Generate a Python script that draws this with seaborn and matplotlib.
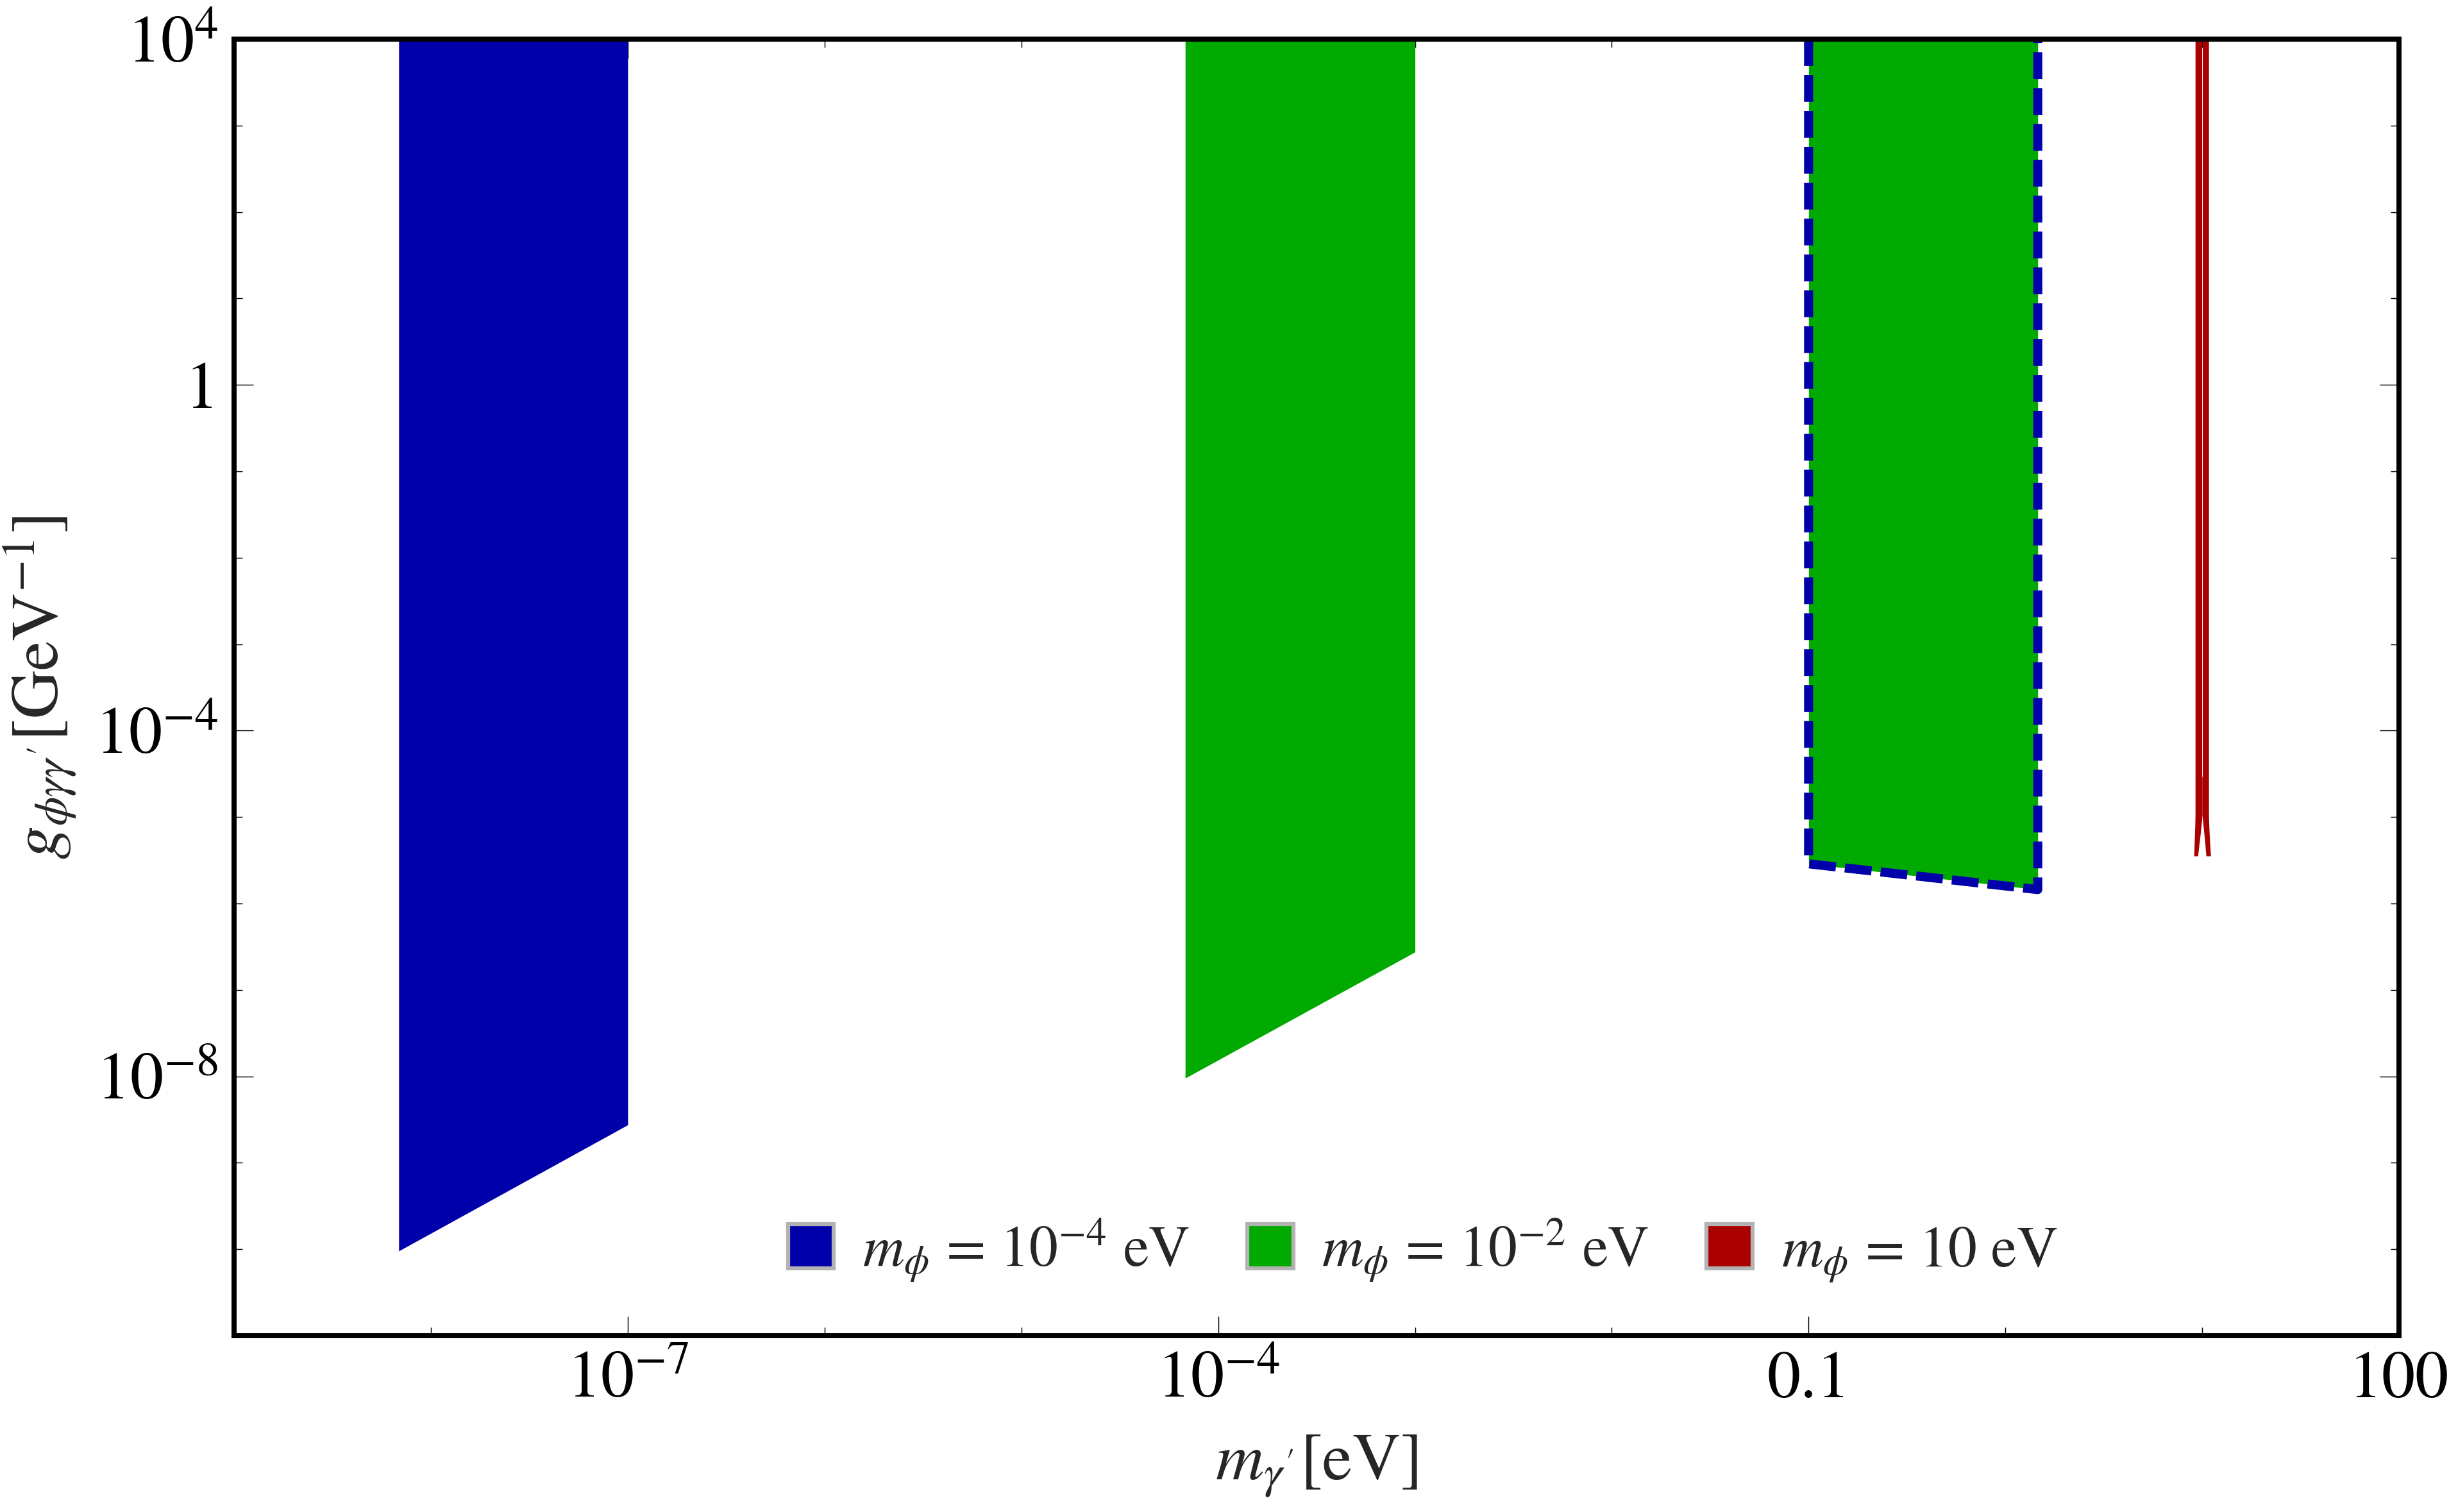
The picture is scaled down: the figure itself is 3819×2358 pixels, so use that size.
import numpy as np
import pandas as pd
import matplotlib
matplotlib.use("Agg")
import matplotlib.pyplot as plt
from matplotlib.patches import Patch
import seaborn as sns

# excluded regions (m_gamma' in eV, g in GeV^-1)
g_top = 1e4

blue_m = [6.86e-9, 1e-7]
blue_g_low = [9.55e-11, 2.75e-9]

green_m = [6.8e-5, 1e-3]
green_g_low = [9.55e-9, 2.75e-7]

green2_m = [0.1, 1.46]
green2_g_low = [2.88e-6, 1.45e-6]

# dashed m_phi = 1e-4 eV contour around the second green island
dash_m = [0.1, 0.1, 1.46, 1.46]
dash_g = [1e4, 2.88e-6, 1.45e-6, 1e4]

# thin red region near m = 10 eV (two bands joined at the bottom)
red_g = [1e4, 3.02e-5, 2.88e-5, 1.07e-5, 7.9e-6, 5.6e-6, 3.55e-6]
red_left_outer = [9.21, 9.21, 9.21, 9.21, 9.18, 9.13, 9.07]
red_left_inner = [9.95, 9.95, 10.0, 10.0, 9.88, 9.72, 9.49]
red_right_inner = [10.03, 10.03, 10.0, 10.0, 10.12, 10.28, 10.46]
red_right_outer = [10.78, 10.78, 10.78, 10.78, 10.82, 10.9, 11.03]

legend_labels = [r"$m_\phi$ = $10^{-4}$ eV", r"$m_\phi$ = $10^{-2}$ eV", r"$m_\phi$ = 10 eV"]
colors = ["#0000aa", "#00aa00", "#aa0000"]

x_major = [1e-7, 1e-4, 0.1, 100]
x_major_labels = [r"$10^{-7}$", r"$10^{-4}$", "0.1", "100"]
y_major = [1e-8, 1e-4, 1, 1e4]
y_major_labels = [r"$10^{-8}$", r"$10^{-4}$", "1", r"$10^{4}$"]

sns.set_theme(style="ticks")
plt.rcParams["font.family"] = ["STIXGeneral", "DejaVu Serif"]
plt.rcParams["mathtext.fontset"] = "stix"

fig = plt.figure(figsize=(12.73, 7.86), dpi=300)
ax = fig.add_axes([0.0956, 0.1166, 0.884, 0.8575])
ax.set_xscale("log")
ax.set_yscale("log")
ax.set_xlim(1e-9, 1e2)
ax.set_ylim(1e-11, 1e4)

ax.fill_between(blue_m, blue_g_low, g_top, color=colors[0], lw=0)
ax.fill_between(green_m, green_g_low, g_top, color=colors[1], lw=0)
ax.fill_between(green2_m, green2_g_low, g_top, color=colors[1], lw=0)
ax.fill_betweenx(red_g, red_left_outer, red_left_inner, color=colors[2], lw=0)
ax.fill_betweenx(red_g, red_right_inner, red_right_outer, color=colors[2], lw=0)

dash_df = pd.DataFrame({"m": dash_m, "g": dash_g})
sns.lineplot(data=dash_df, x="m", y="g", sort=False, estimator=None, ax=ax, color=colors[0])
dash_line = ax.lines[-1]
dash_line.set_linewidth(3.4)
dash_line.set_linestyle((0, (2.95, 1.0)))
dash_line.set_dash_capstyle("butt")

# ticks
ax.set_xticks(x_major)
ax.set_xticklabels(x_major_labels)
ax.set_xticks([10.0 ** k for k in range(-9, 3) if 10.0 ** k not in x_major], minor=True)
ax.set_yticks(y_major)
ax.set_yticklabels(y_major_labels)
ax.set_yticks([10.0 ** k for k in range(-11, 5) if 10.0 ** k not in y_major], minor=True)
ax.xaxis.set_minor_formatter(plt.NullFormatter())
ax.yaxis.set_minor_formatter(plt.NullFormatter())
ax.tick_params(which="both", direction="in", top=True, right=True, width=0.35, colors="black",
               labelsize=25)
ax.tick_params(which="major", length=7.2, pad=6)
ax.tick_params(which="minor", length=3.2)
for s in ax.spines.values():
    s.set_linewidth(1.9)
    s.set_color("black")

ax.set_xlabel(r"$m_{\gamma'}$[eV]", fontsize=25, labelpad=8)
ax.set_ylabel(r"$g_{\phi\gamma\gamma'}[\mathrm{GeV}^{-1}]$", fontsize=25, labelpad=6)

handles = [Patch(facecolor=c, edgecolor="#b3b3b3", linewidth=1.5) for c in colors]
ax.legend(handles, legend_labels, loc="center", bbox_to_anchor=(0.549, 0.066), ncol=3,
          frameon=False, fontsize=21.5, handlelength=0.8, handleheight=0.8,
          handletextpad=0.5, columnspacing=1.0)

fig.savefig("out.png", dpi=300)
